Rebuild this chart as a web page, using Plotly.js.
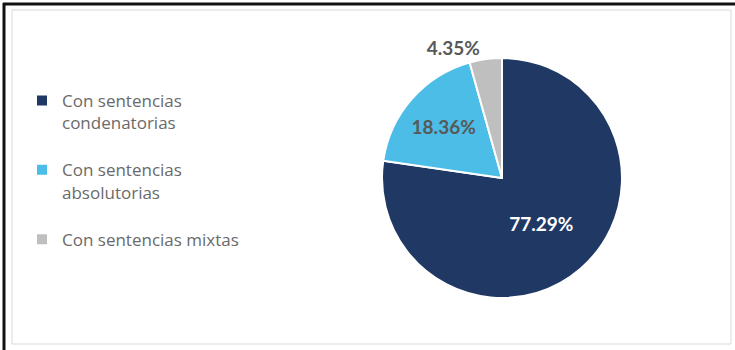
<!DOCTYPE html>
<html>
<head>
<meta charset="utf-8">
<script src="https://cdn.plot.ly/plotly-3.0.1.min.js"></script>
<style>html,body{margin:0;padding:0;background:#fff;}#chart{width:735px;height:350px;}</style>
</head>
<body>
<div id="chart"></div>
<script>
const labels = ["Con sentencias<br>condenatorias<br> ", "Con sentencias<br>absolutorias<br> ", "Con sentencias mixtas"];
const values = [77.29, 18.36, 4.35];
const colors = ["#203864", "#4BBDE6", "#BFBFBF"];
const textColors = ["#FFFFFF", "#595959", "#595959"];
const textPositions = ["inside", "inside", "outside"];

const trace = {
  type: "pie",
  labels: labels,
  values: values,
  sort: false,
  direction: "clockwise",
  rotation: 0,
  marker: {colors: colors, line: {color: "#FFFFFF", width: 2}},
  texttemplate: "%{value:.2f}%",
  textposition: textPositions,
  insidetextorientation: "horizontal",
  textfont: {family: "Lato, 'Open Sans', sans-serif", size: 19, color: textColors, weight: "bold"},
  outsidetextfont: {family: "Lato, 'Open Sans', sans-serif", size: 19, color: "#595959", weight: "bold"},
  hoverinfo: "none",
  domain: {x: [382/735, 622/735], y: [1 - 298/350, 1 - 58/350]},
  automargin: false
};

const layout = {
  width: 735,
  height: 350,
  margin: {l: 0, r: 0, t: 0, b: 0},
  paper_bgcolor: "#FFFFFF",
  showlegend: true,
  legend: {
    x: 22/735, y: 1 - 83/350, xanchor: "left", yanchor: "top",
    font: {family: "'Open Sans', Lato, sans-serif", size: 17, color: "#6A6A6A"},
    itemwidth: 30,
    valign: "top",
    bgcolor: "rgba(0,0,0,0)"
  },
  shapes: [
    {type: "rect", xref: "paper", yref: "paper", x0: 12/735, x1: 731/735, y0: 1 - 344/350, y1: 1 - 10/350, line: {color: "#D9D9D9", width: 1}},
    {type: "line", xref: "paper", yref: "paper", x0: 3/735, x1: 1, y0: 1 - 4/350, y1: 1 - 4/350, line: {color: "#111111", width: 3}},
    {type: "line", xref: "paper", yref: "paper", x0: 4/735, x1: 4/735, y0: 1 - 3/350, y1: 0, line: {color: "#111111", width: 3}}
  ]
};

Plotly.newPlot("chart", [trace], layout, {displayModeBar: false, staticPlot: true});
</script>
</body>
</html>
